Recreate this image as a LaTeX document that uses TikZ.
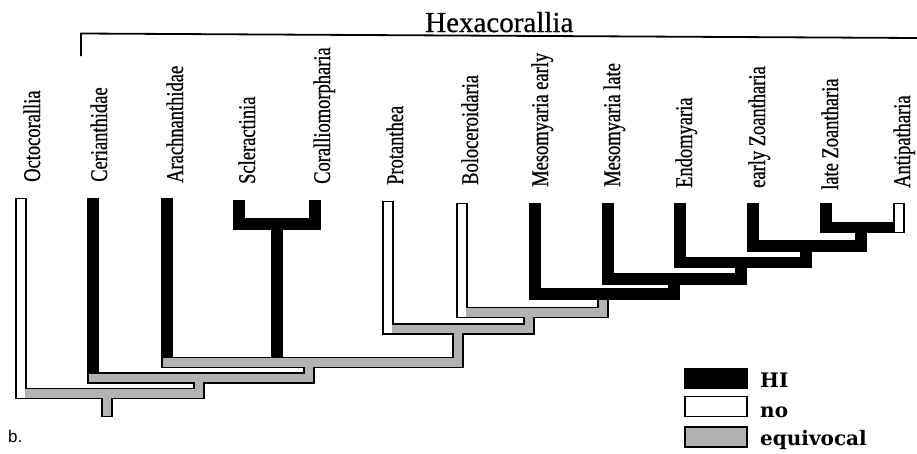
\documentclass[tikz,border=0pt]{standalone}
\usepackage{fontspec}
\setmainfont{Liberation Serif}
\newfontfamily\labfont[FakeStretch=0.77,FakeBold=0.6]{Liberation Serif}
\newfontfamily\titlefont[FakeBold=0.6]{Liberation Serif}
\newfontfamily\legfont{DejaVu Serif}
\newfontfamily\tagfont{Liberation Sans}
\definecolor{equiv}{gray}{0.7}
\tikzset{
  outerline/.style={line width=11.5pt, line cap=rect, line join=miter, draw=black},
  innergray/.style={line width=8.5pt, line cap=rect, line join=miter, draw=equiv},
  innerwhite/.style={line width=8.5pt, line cap=rect, line join=miter, draw=white},
  hibar/.style={line width=11.5pt, line cap=rect, line join=miter, draw=black},
  lab/.style={rotate=90, anchor=base west, inner sep=0pt, font={\labfont\fontsize{24pt}{24pt}\selectfont}},
  legtext/.style={anchor=base west, inner sep=0pt, font={\legfont\bfseries\fontsize{20pt}{20pt}\selectfont}},
  legbox/.style={minimum width=62pt, minimum height=20pt, inner sep=0pt, line width=1.8pt},
}
\begin{document}
\begin{tikzpicture}[x=1pt, y=-1pt]
\useasboundingbox (0,0) rectangle (917,453);
\fill[white] (0,0) rectangle (917,453);

% bracket and title
\draw[line width=1.8pt] (81,56) -- (81,33.5) -- (917,38);
\node (title) [anchor=base west, inner sep=0pt, font={\titlefont\fontsize{29pt}{29pt}\selectfont}] at (425,32) {Hexacorallia};

% labels
\node (l1) [lab] at (40,182) {Octocorallia};
\node (l2) [lab] at (107,182) {Cerianthidae};
\node (l3) [lab] at (183,183) {Arachnanthidae};
\node (l4) [lab] at (255,184) {Scleractinia};
\node (l5) [lab] at (330,184) {Coralliomorpharia};
\node (l6) [lab] at (403,185) {Protanthea};
\node (l7) [lab] at (478,185) {Boloceroidaria};
\node (l8) [lab] at (548,187) {Mesomyaria early};
\node (l9) [lab] at (620,187) {Mesomyaria late};
\node (l10) [lab] at (692,188) {Endomyaria};
\node (l11) [lab] at (765,188) {early Zoantharia};
\node (l12) [lab] at (838,190) {late Zoantharia};
\node (l13) [lab] at (910,188) {Antipatharia};

% equivocal / no branches: outlines
\draw[outerline] (21,203.5) -- (21,393.5) -- (199,393.5) -- (199,378);
\draw[outerline] (107,393.5) -- (107,411.5);
\draw[outerline] (93,378) -- (309,378) -- (309,362.5);
\draw[outerline] (167,362.5) -- (458,362.5) -- (458,329);
\draw[outerline] (388,206.5) -- (388,329) -- (529,329) -- (529,312.5);
\draw[outerline] (462,208.5) -- (462,312.5) -- (603,312.5) -- (603,294);
% fills
\draw[innergray] (21,393.5) -- (199,393.5) -- (199,378);
\draw[innergray] (107,393.5) -- (107,411.5);
\draw[innergray] (93,378) -- (309,378) -- (309,362.5);
\draw[innergray] (167,362.5) -- (458,362.5) -- (458,329);
\draw[innergray] (388,329) -- (529,329) -- (529,312.5);
\draw[innergray] (462,312.5) -- (603,312.5) -- (603,294);
\draw[innerwhite] (21,203.5) -- (21,393.5);
\draw[innerwhite] (388,206.5) -- (388,329);
\draw[innerwhite] (462,208.5) -- (462,312.5);

% HI branches
\draw[hibar] (93,203.5) -- (93,367.5);
\draw[hibar] (167,203.5) -- (167,351.5);
\draw[hibar] (239,205.5) -- (239,224) -- (315,224) -- (315,205.5);
\draw[hibar] (277,224) -- (277,351.5);
\draw[hibar] (535,208.5) -- (535,294) -- (674,294) -- (674,279);
\draw[hibar] (608,208.5) -- (608,279) -- (741,279) -- (741,262.5);
\draw[hibar] (680,208.5) -- (680,262.5) -- (806,262.5) -- (806,246);
\draw[hibar] (753,208.5) -- (753,246) -- (861,246) -- (861,227.5);
\draw[hibar] (826,208.5) -- (826,227.5) -- (888,227.5);
\draw[outerline] (899,208.5) -- (899,227.5);
\draw[innerwhite] (899,208.5) -- (899,227.5);

% legend
\node (bhi) [legbox, fill=black, draw=black] at (716,378.5) {};
\node (bno) [legbox, fill=white, draw=black] at (716,406.5) {};
\node (beq) [legbox, fill=equiv, draw=black] at (716,437) {};
\node (thi) [legtext] at (760,387) {HI};
\node (tno) [legtext] at (760,417) {no};
\node (teq) [legtext] at (760,445) {equivocal};

\node (tag) [anchor=base west, inner sep=0pt, font={\tagfont\fontsize{17pt}{17pt}\selectfont}] at (8,442) {b.};
\end{tikzpicture}
\end{document}
